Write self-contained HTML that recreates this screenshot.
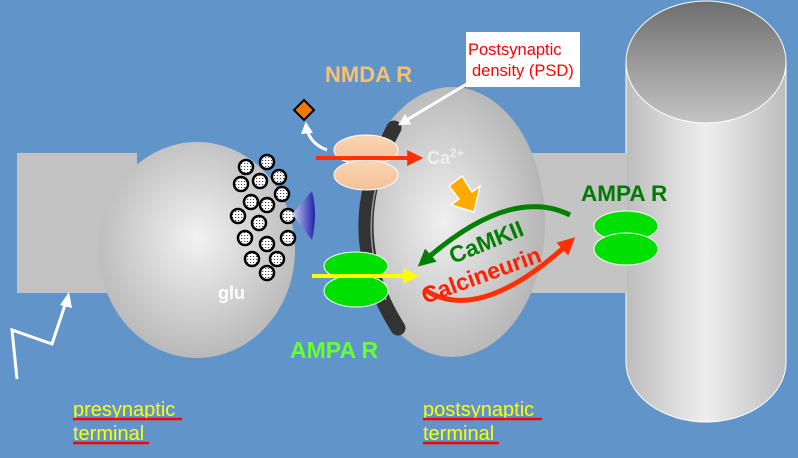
<!DOCTYPE html>
<html><head><meta charset="utf-8"><style>
html,body{margin:0;padding:0;background:#6195c9;}
svg{display:block;font-family:"Liberation Sans",Arial,sans-serif;}
</style></head><body>
<svg width="798" height="458" viewBox="0 0 798 458">
<defs>
<radialGradient id="sph" cx="0.5" cy="0.45" r="0.6"><stop offset="0" stop-color="#f2f2f2"/><stop offset="1" stop-color="#b4b4b4"/></radialGradient>
<radialGradient id="sph2" cx="0.45" cy="0.5" r="0.6"><stop offset="0" stop-color="#f0f0f0"/><stop offset="1" stop-color="#b0b0b0"/></radialGradient>
<linearGradient id="cyl" x1="0" x2="1"><stop offset="0" stop-color="#bdbdbd"/><stop offset="0.5" stop-color="#eeeeee"/><stop offset="1" stop-color="#bdbdbd"/></linearGradient>
<linearGradient id="top" x1="0" y1="0" x2="0" y2="1"><stop offset="0" stop-color="#6e6e6e"/><stop offset="1" stop-color="#c4c4c4"/></linearGradient>
<linearGradient id="tri" x1="0" x2="1"><stop offset="0" stop-color="#c8d0f0"/><stop offset="1" stop-color="#2020b0"/></linearGradient>
<linearGradient id="nm" x1="0" y1="0" x2="0" y2="1"><stop offset="0" stop-color="#fbd6b4"/><stop offset="1" stop-color="#f2c098"/></linearGradient>
<pattern id="dots" width="3" height="3" patternUnits="userSpaceOnUse"><rect width="3" height="3" fill="#fff"/><rect x="1" y="1" width="1.2" height="1" fill="#444"/></pattern>
<marker id="ar" viewBox="0 0 10 10" refX="8" refY="5" markerWidth="4" markerHeight="4" orient="auto"><path d="M0,0L10,5L0,10z" fill="#ff3000"/></marker>
<marker id="ay" viewBox="0 0 10 10" refX="8" refY="5" markerWidth="4" markerHeight="4" orient="auto"><path d="M0,0L10,5L0,10z" fill="#ffff00"/></marker>
<marker id="aw" viewBox="0 0 10 10" refX="8" refY="5" markerWidth="4" markerHeight="4" orient="auto"><path d="M0,0L10,5L0,10z" fill="#fff"/></marker>
<marker id="ag" viewBox="0 0 10 10" refX="6" refY="5" markerWidth="3.5" markerHeight="3.5" orient="auto"><path d="M0,0L10,5L0,10z" fill="#008000"/></marker>
<marker id="ar2" viewBox="0 0 10 10" refX="6" refY="5" markerWidth="3.5" markerHeight="3.5" orient="auto"><path d="M0,0L10,5L0,10z" fill="#ff3000"/></marker>
</defs>
<path d="M626,62 L786,62 L786,362 A80,60 0 0 1 626,362 Z" fill="url(#cyl)" stroke="#fff" stroke-width="1"/>
<ellipse cx="706" cy="62" rx="80" ry="61" fill="url(#top)" stroke="#fff" stroke-width="1"/>
<rect x="17" y="153" width="120" height="140" fill="#c2c2c2"/>
<rect x="500" y="153" width="127" height="140" fill="#c4c4c4"/>
<ellipse cx="197" cy="250" rx="98" ry="108" fill="url(#sph)"/>
<ellipse cx="452" cy="222" rx="93" ry="135" fill="url(#sph2)"/>
<path d="M394,128 Q336,230 398,328" fill="none" stroke="#333" stroke-width="15" stroke-linecap="round"/>
<path d="M383,165 Q358,230 386,300" fill="none" stroke="#999" stroke-width="1.5"/>
<g fill="url(#dots)" stroke="#000" stroke-width="2.5">
<circle cx="267" cy="162" r="7"/><circle cx="246" cy="167" r="7"/><circle cx="260" cy="181" r="7"/><circle cx="279" cy="177" r="7"/><circle cx="241" cy="184" r="7"/><circle cx="282" cy="194" r="7"/><circle cx="251" cy="202" r="7"/><circle cx="267" cy="205" r="7"/><circle cx="238" cy="216" r="7"/><circle cx="259" cy="223" r="7"/><circle cx="288" cy="216" r="7"/><circle cx="245" cy="238" r="7"/><circle cx="267" cy="244" r="7"/><circle cx="288" cy="238" r="7"/><circle cx="252" cy="259" r="7"/><circle cx="277" cy="259" r="7"/><circle cx="267" cy="273" r="7"/>
</g>
<path d="M292,214 L312,191 Q318,214 312,240 Z" fill="url(#tri)"/>
<ellipse cx="366" cy="150" rx="32" ry="15" fill="url(#nm)" stroke="#fff"/>
<ellipse cx="366" cy="175" rx="32" ry="15" fill="url(#nm)" stroke="#fff"/>
<line x1="316" y1="158" x2="420" y2="158" stroke="#ff3000" stroke-width="4" marker-end="url(#ar)"/>
<ellipse cx="356" cy="266" rx="32" ry="14" fill="#00e000" stroke="#fff"/>
<ellipse cx="356" cy="291" rx="32" ry="16" fill="#00e000" stroke="#fff"/>
<line x1="312" y1="276" x2="416" y2="276" stroke="#ffff00" stroke-width="4" marker-end="url(#ay)"/>
<ellipse cx="626" cy="226" rx="32" ry="15" fill="#00e000" stroke="#fff"/>
<ellipse cx="626" cy="249" rx="32" ry="16" fill="#00e000" stroke="#fff"/>
<path d="M304,100 L314,110 L304,120 L294,110 Z" fill="#f07800" stroke="#000" stroke-width="2"/>
<path d="M327,150 Q308,143 306,124" fill="none" stroke="#fff" stroke-width="3" marker-end="url(#aw)"/>
<path d="M449,186 L462,176 L472,192 L480,186 L474,212 L451,205 L459,199 Z" fill="#ffaa00" stroke="#fff" stroke-width="1.5"/>
<path d="M570,215 Q510,185 423,262" fill="none" stroke="#008000" stroke-width="5" marker-end="url(#ag)"/>
<path d="M425,290 Q480,325 570,242" fill="none" stroke="#ff3000" stroke-width="5" marker-end="url(#ar2)"/>
<text x="453" y="264" font-size="23" font-weight="bold" fill="#008000" transform="rotate(-22 453 264)">CaMKII</text>
<text x="425" y="304" font-size="23" font-weight="bold" fill="#ff2000" transform="rotate(-20 425 304)">Calcineurin</text>
<rect x="466" y="32" width="114" height="55" fill="#fff"/>
<text x="468" y="55" font-size="16.5" fill="#ff0000">Postsynaptic</text>
<text x="472" y="76" font-size="16.5" fill="#ff0000">density (PSD)</text>
<line x1="470" y1="82" x2="400" y2="124" stroke="#fff" stroke-width="3" marker-end="url(#aw)"/>
<text x="325" y="82" font-size="22" font-weight="bold" fill="#f8c070">NMDA R</text>
<text x="427" y="164" font-size="18" font-weight="bold" fill="#eeeeee">Ca<tspan font-size="12" dy="-7">2+</tspan></text>
<text x="290" y="358" font-size="23" font-weight="bold" fill="#66ff33">AMPA R</text>
<text x="581" y="201" font-size="22.5" font-weight="bold" fill="#007a00">AMPA R</text>
<text x="218" y="299" font-size="18" font-weight="bold" fill="#fff">glu</text>
<polyline points="17,379 12,330 52,344 65,305" fill="none" stroke="#fff" stroke-width="3"/>
<path d="M60,305 L69,292 L72,308 Z" fill="#fff"/>
<g font-size="20" fill="#ffff00">
<text x="73" y="416">presynaptic</text><text x="73" y="440">terminal</text>
<text x="423" y="416">postsynaptic</text><text x="423" y="440">terminal</text>
</g>
<g stroke="#ff0000" stroke-width="2.5">
<line x1="73" y1="419" x2="182" y2="419"/><line x1="73" y1="443" x2="149" y2="443"/>
<line x1="423" y1="419" x2="542" y2="419"/><line x1="423" y1="443" x2="499" y2="443"/>
</g>
</svg>
</body></html>
